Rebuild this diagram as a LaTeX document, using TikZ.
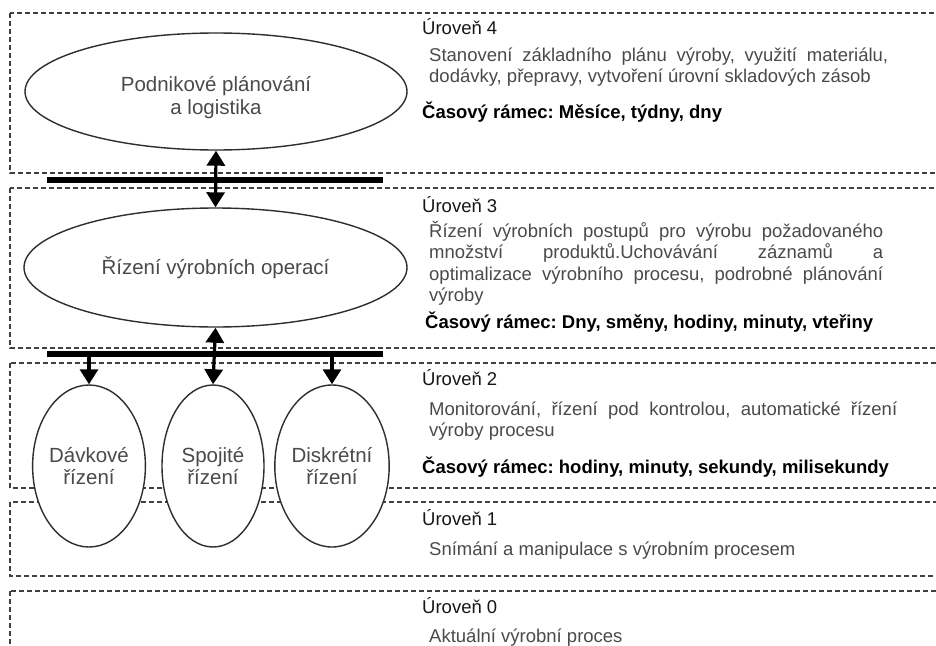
\documentclass[tikz,border=0pt]{standalone}
\usepackage{fontspec}
\setmainfont{Liberation Sans}
\frenchspacing
\usetikzlibrary{shapes.geometric,arrows.meta}
\definecolor{framegray}{HTML}{404040}
\definecolor{bodygray}{HTML}{4A4A4A}
\definecolor{headgray}{HTML}{161616}
\definecolor{ellgray}{HTML}{2E2E2E}
\tikzset{
  levelbox/.style={draw=framegray, line width=1.1pt, dash pattern=on 5pt off 3pt},
  bigell/.style={ellipse, draw=ellgray, line width=1.4pt, fill=white, inner sep=0pt,
    text=bodygray, align=center, font=\fontsize{20.5}{23.5}\selectfont},
  smallell/.style={ellipse, draw=ellgray, line width=1.4pt, fill=white, inner sep=0pt,
    minimum width=102pt, minimum height=162pt,
    text=bodygray, align=center, font=\fontsize{20.5}{21.5}\selectfont},
  bus/.style={line width=5.5pt, black},
  flow/.style={line width=3.2pt, black, -{Triangle[width=18pt,length=15pt]}},
  bothflow/.style={line width=3.2pt, black, {Triangle[width=18pt,length=15pt]}-{Triangle[width=18pt,length=15pt]}},
  levelhead/.style={anchor=base west, inner sep=0pt, text=headgray, font=\fontsize{18.5}{21.5}\selectfont},
  levelbody/.style={anchor=north west, inner sep=0pt, text=bodygray, align=justify,
    font=\fontsize{18.5}{21.5}\selectfont},
  timeframe/.style={anchor=base west, inner sep=0pt, text=black, font=\fontsize{18.5}{21.5}\selectfont\bfseries}
}
\begin{document}
\begin{tikzpicture}[x=1pt,y=-1pt]
\clip (0,0) rectangle (936,645);
\fill[white] (0,0) rectangle (936,645);

% level frames
\draw[levelbox] (10,13) rectangle (960,173);
\draw[levelbox] (10,188) rectangle (960,348);
\draw[levelbox] (10,363) rectangle (960,488);
\draw[levelbox] (10,502) rectangle (960,576);
\draw[levelbox] (10,591) rectangle (960,700);

% buses
\coordinate (bus1w) at (47,180);
\coordinate (bus1e) at (383,180);
\coordinate (bus2w) at (47,354);
\coordinate (bus2e) at (383,354);
\draw[bus] (bus1w) -- (bus1e);
\draw[bus] (bus2w) -- (bus2e);

% ellipses
\node[bigell, minimum width=382pt, minimum height=117pt] (plan) at (216,91.5)
  {\rule{0pt}{27pt}Podnikové plánování\\a logistika};
\node[bigell, minimum width=383pt, minimum height=119pt] (ops) at (215.5,267.5)
  {\rule{0pt}{19pt}Řízení výrobních operací};
\node[smallell] (batch) at (89,466) {Dávkové\\řízení};
\node[smallell] (cont) at (213,466) {Spojité\\řízení};
\node[smallell] (disc) at (332,466) {Diskrétní\\řízení};

% connectors
\coordinate (tapA) at (89,354);
\coordinate (tapC) at (332,354);
\draw[bothflow] (plan.south) -- (ops.north);
\draw[bothflow] (ops.south) -- (cont.north);
\draw[flow] (tapA) -- (batch.north);
\draw[flow] (tapC) -- (disc.north);

% level 4
\node[levelhead] (h4) at (422,34) {Úroveň 4};
\node[levelbody, text width=459pt] (d4) at (429,43)
  {\rule{0pt}{18pt}Stanovení základního plánu výroby, využití materiálu,\linebreak
   dodávky, přepravy, vytvoření úrovní skladových zásob};
\node[timeframe] (t4) at (422,118) {Časový rámec: Měsíce, týdny, dny};

% level 3
\node[levelhead] (h3) at (422,212) {Úroveň 3};
\node[levelbody, text width=454pt] (d3) at (429,219)
  {\rule{0pt}{18pt}Řízení výrobních postupů pro výrobu požadovaného\linebreak
   množství produktů.Uchovávání záznamů a\linebreak
   optimalizace výrobního procesu, podrobné plánování\linebreak
   výroby};
\node[timeframe] (t3) at (425,328) {Časový rámec: Dny, směny, hodiny, minuty, vteřiny};

% level 2
\node[levelhead] (h2) at (422,385) {Úroveň 2};
\node[levelbody, text width=468pt] (d2) at (429,397)
  {\rule{0pt}{18pt}Monitorování, řízení pod kontrolou, automatické řízení\linebreak
   výroby procesu};
\node[timeframe] (t2) at (422,473) {Časový rámec: hodiny, minuty, sekundy, milisekundy};

% level 1
\node[levelhead] (h1) at (422,525) {Úroveň 1};
\node[levelbody, anchor=base west] (d1) at (429,555) {Snímání a manipulace s výrobním procesem};

% level 0
\node[levelhead] (h0) at (422,613) {Úroveň 0};
\node[levelbody, anchor=base west] (d0) at (429,642) {Aktuální výrobní proces};
\end{tikzpicture}
\end{document}
